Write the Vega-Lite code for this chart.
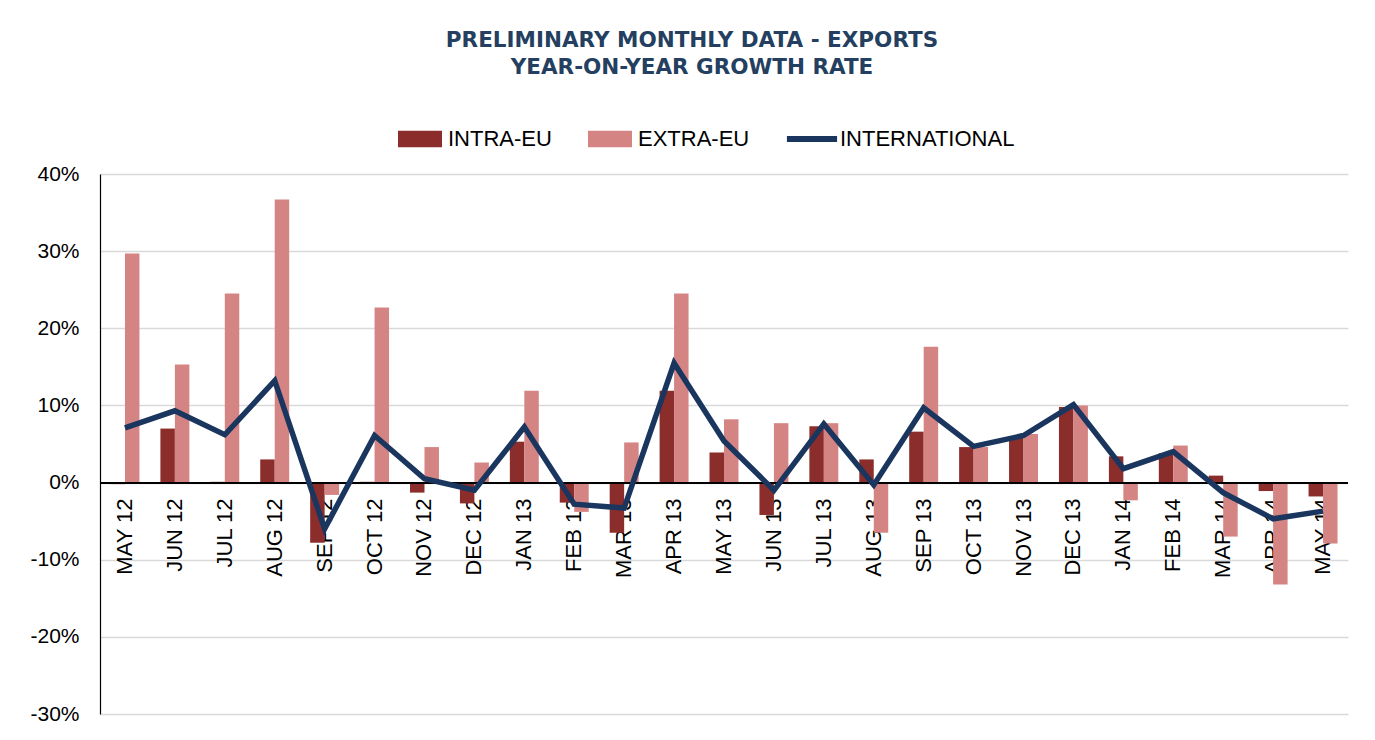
{
  "$schema": "https://vega.github.io/schema/vega-lite/v6.json",
  "width": 1248,
  "height": 540,
  "autosize": {"type": "none"},
  "padding": {"left": 100, "top": 174, "right": 27, "bottom": 26},
  "background": "white",
  "config": {"view": {"stroke": null}, "font": "Liberation Sans"},
  "title": {
    "text": ["PRELIMINARY MONTHLY DATA - EXPORTS", "YEAR-ON-YEAR GROWTH RATE"],
    "font": "DejaVu Sans",
    "fontWeight": "bold",
    "fontSize": 21.5,
    "color": "#243f60",
    "anchor": "middle",
    "frame": "group",
    "dx": -32,
    "offset": 39,
    "lineHeight": 27
  },
  "data": {
    "values": [
      {"month": "MAY 12", "series": "INTRA-EU", "value": -0.2},
      {"month": "MAY 12", "series": "EXTRA-EU", "value": 29.7},
      {"month": "MAY 12", "series": "INTERNATIONAL", "value": 7.1},
      {"month": "JUN 12", "series": "INTRA-EU", "value": 7.0},
      {"month": "JUN 12", "series": "EXTRA-EU", "value": 15.3},
      {"month": "JUN 12", "series": "INTERNATIONAL", "value": 9.3},
      {"month": "JUL 12", "series": "INTRA-EU", "value": 0.1},
      {"month": "JUL 12", "series": "EXTRA-EU", "value": 24.5},
      {"month": "JUL 12", "series": "INTERNATIONAL", "value": 6.2},
      {"month": "AUG 12", "series": "INTRA-EU", "value": 3.0},
      {"month": "AUG 12", "series": "EXTRA-EU", "value": 36.7},
      {"month": "AUG 12", "series": "INTERNATIONAL", "value": 13.2},
      {"month": "SEP 12", "series": "INTRA-EU", "value": -7.8},
      {"month": "SEP 12", "series": "EXTRA-EU", "value": -1.6},
      {"month": "SEP 12", "series": "INTERNATIONAL", "value": -6.0},
      {"month": "OCT 12", "series": "INTRA-EU", "value": 0.1},
      {"month": "OCT 12", "series": "EXTRA-EU", "value": 22.7},
      {"month": "OCT 12", "series": "INTERNATIONAL", "value": 6.1},
      {"month": "NOV 12", "series": "INTRA-EU", "value": -1.3},
      {"month": "NOV 12", "series": "EXTRA-EU", "value": 4.6},
      {"month": "NOV 12", "series": "INTERNATIONAL", "value": 0.5},
      {"month": "DEC 12", "series": "INTRA-EU", "value": -2.7},
      {"month": "DEC 12", "series": "EXTRA-EU", "value": 2.6},
      {"month": "DEC 12", "series": "INTERNATIONAL", "value": -1.0},
      {"month": "JAN 13", "series": "INTRA-EU", "value": 5.3},
      {"month": "JAN 13", "series": "EXTRA-EU", "value": 11.9},
      {"month": "JAN 13", "series": "INTERNATIONAL", "value": 7.2},
      {"month": "FEB 13", "series": "INTRA-EU", "value": -2.6},
      {"month": "FEB 13", "series": "EXTRA-EU", "value": -3.8},
      {"month": "FEB 13", "series": "INTERNATIONAL", "value": -2.8},
      {"month": "MAR 13", "series": "INTRA-EU", "value": -6.5},
      {"month": "MAR 13", "series": "EXTRA-EU", "value": 5.2},
      {"month": "MAR 13", "series": "INTERNATIONAL", "value": -3.3},
      {"month": "APR 13", "series": "INTRA-EU", "value": 11.9},
      {"month": "APR 13", "series": "EXTRA-EU", "value": 24.5},
      {"month": "APR 13", "series": "INTERNATIONAL", "value": 15.5},
      {"month": "MAY 13", "series": "INTRA-EU", "value": 3.9},
      {"month": "MAY 13", "series": "EXTRA-EU", "value": 8.2},
      {"month": "MAY 13", "series": "INTERNATIONAL", "value": 5.4},
      {"month": "JUN 13", "series": "INTRA-EU", "value": -4.2},
      {"month": "JUN 13", "series": "EXTRA-EU", "value": 7.7},
      {"month": "JUN 13", "series": "INTERNATIONAL", "value": -1.0},
      {"month": "JUL 13", "series": "INTRA-EU", "value": 7.3},
      {"month": "JUL 13", "series": "EXTRA-EU", "value": 7.7},
      {"month": "JUL 13", "series": "INTERNATIONAL", "value": 7.6},
      {"month": "AUG 13", "series": "INTRA-EU", "value": 3.0},
      {"month": "AUG 13", "series": "EXTRA-EU", "value": -6.5},
      {"month": "AUG 13", "series": "INTERNATIONAL", "value": -0.3},
      {"month": "SEP 13", "series": "INTRA-EU", "value": 6.6},
      {"month": "SEP 13", "series": "EXTRA-EU", "value": 17.6},
      {"month": "SEP 13", "series": "INTERNATIONAL", "value": 9.7},
      {"month": "OCT 13", "series": "INTRA-EU", "value": 4.6},
      {"month": "OCT 13", "series": "EXTRA-EU", "value": 4.6},
      {"month": "OCT 13", "series": "INTERNATIONAL", "value": 4.7},
      {"month": "NOV 13", "series": "INTRA-EU", "value": 5.9},
      {"month": "NOV 13", "series": "EXTRA-EU", "value": 6.3},
      {"month": "NOV 13", "series": "INTERNATIONAL", "value": 6.1},
      {"month": "DEC 13", "series": "INTRA-EU", "value": 9.8},
      {"month": "DEC 13", "series": "EXTRA-EU", "value": 10.0},
      {"month": "DEC 13", "series": "INTERNATIONAL", "value": 10.1},
      {"month": "JAN 14", "series": "INTRA-EU", "value": 3.4},
      {"month": "JAN 14", "series": "EXTRA-EU", "value": -2.3},
      {"month": "JAN 14", "series": "INTERNATIONAL", "value": 1.8},
      {"month": "FEB 14", "series": "INTRA-EU", "value": 3.8},
      {"month": "FEB 14", "series": "EXTRA-EU", "value": 4.8},
      {"month": "FEB 14", "series": "INTERNATIONAL", "value": 4.0},
      {"month": "MAR 14", "series": "INTRA-EU", "value": 0.9},
      {"month": "MAR 14", "series": "EXTRA-EU", "value": -7.0},
      {"month": "MAR 14", "series": "INTERNATIONAL", "value": -1.3},
      {"month": "APR 14", "series": "INTRA-EU", "value": -1.1},
      {"month": "APR 14", "series": "EXTRA-EU", "value": -13.2},
      {"month": "APR 14", "series": "INTERNATIONAL", "value": -4.7},
      {"month": "MAY 14", "series": "INTRA-EU", "value": -1.8},
      {"month": "MAY 14", "series": "EXTRA-EU", "value": -7.9},
      {"month": "MAY 14", "series": "INTERNATIONAL", "value": -3.7}
    ]
  },
  "layer": [
    {
      "transform": [{"filter": "datum.series !== 'INTERNATIONAL'"}],
      "mark": {"type": "bar"},
      "encoding": {
        "x": {
          "field": "month", "type": "nominal", "sort": null,
          "scale": {"paddingInner": 0.42, "paddingOuter": 0.21},
          "axis": {
            "title": null, "orient": "bottom", "offset": -232,
            "domain": false, "ticks": false, "labelAngle": -90,
            "labelFontSize": 22, "labelColor": "black", "labelPadding": 16,
            "labelFont": "Liberation Sans"
          }
        },
        "xOffset": {"field": "series", "type": "nominal", "sort": ["INTRA-EU", "EXTRA-EU"], "scale": {"paddingInner": 0, "paddingOuter": 0}},
        "y": {
          "field": "value", "type": "quantitative",
          "scale": {"domain": [-30, 40], "nice": false},
          "axis": {
            "title": null, "values": [-30, -20, -10, 0, 10, 20, 30, 40],
            "labelExpr": "datum.value + '%'",
            "domainColor": "black", "domainWidth": 1.2, "ticks": false,
            "labelFontSize": 21, "labelColor": "black", "labelPadding": 21,
            "labelFont": "Liberation Sans",
            "gridColor": "#d9d9d9", "gridWidth": 1.3
          }
        },
        "color": {
          "field": "series", "type": "nominal",
          "scale": {"domain": ["INTRA-EU", "EXTRA-EU", "INTERNATIONAL"], "range": ["#8b2d2b", "#d48583", "#1b365e"]},
          "legend": {
            "title": null, "orient": "none", "direction": "horizontal",
            "legendX": 298, "legendY": -57,
            "labelFontSize": 22, "labelFont": "Liberation Sans", "labelColor": "black",
            "labelLimit": 400,
            "labelOffset": 6, "columnPadding": 36, "symbolSize": 1936,
            "encode": {
              "symbols": {
                "update": {
                  "shape": {"signal": "datum.value === 'INTERNATIONAL' ? 'M-1.14,-0.14H1.14V0.14H-1.14Z' : 'M-1,-0.37H1V0.37H-1Z'"},
                  "fill": {"signal": "scale('color', datum.value)"},
                  "strokeWidth": {"value": 0},
                  "opacity": {"value": 1}
                }
              }
            }
          }
        }
      }
    },
    {
      "mark": {"type": "rule", "color": "black", "strokeWidth": 1.2},
      "encoding": {"y": {"datum": 0}}
    },
    {
      "transform": [{"filter": "datum.series === 'INTERNATIONAL'"}],
      "mark": {"type": "line", "strokeWidth": 5.5, "strokeJoin": "miter"},
      "encoding": {
        "x": {"field": "month", "type": "nominal", "sort": null},
        "y": {"field": "value", "type": "quantitative"},
        "color": {"field": "series", "type": "nominal"}
      }
    }
  ]
}
